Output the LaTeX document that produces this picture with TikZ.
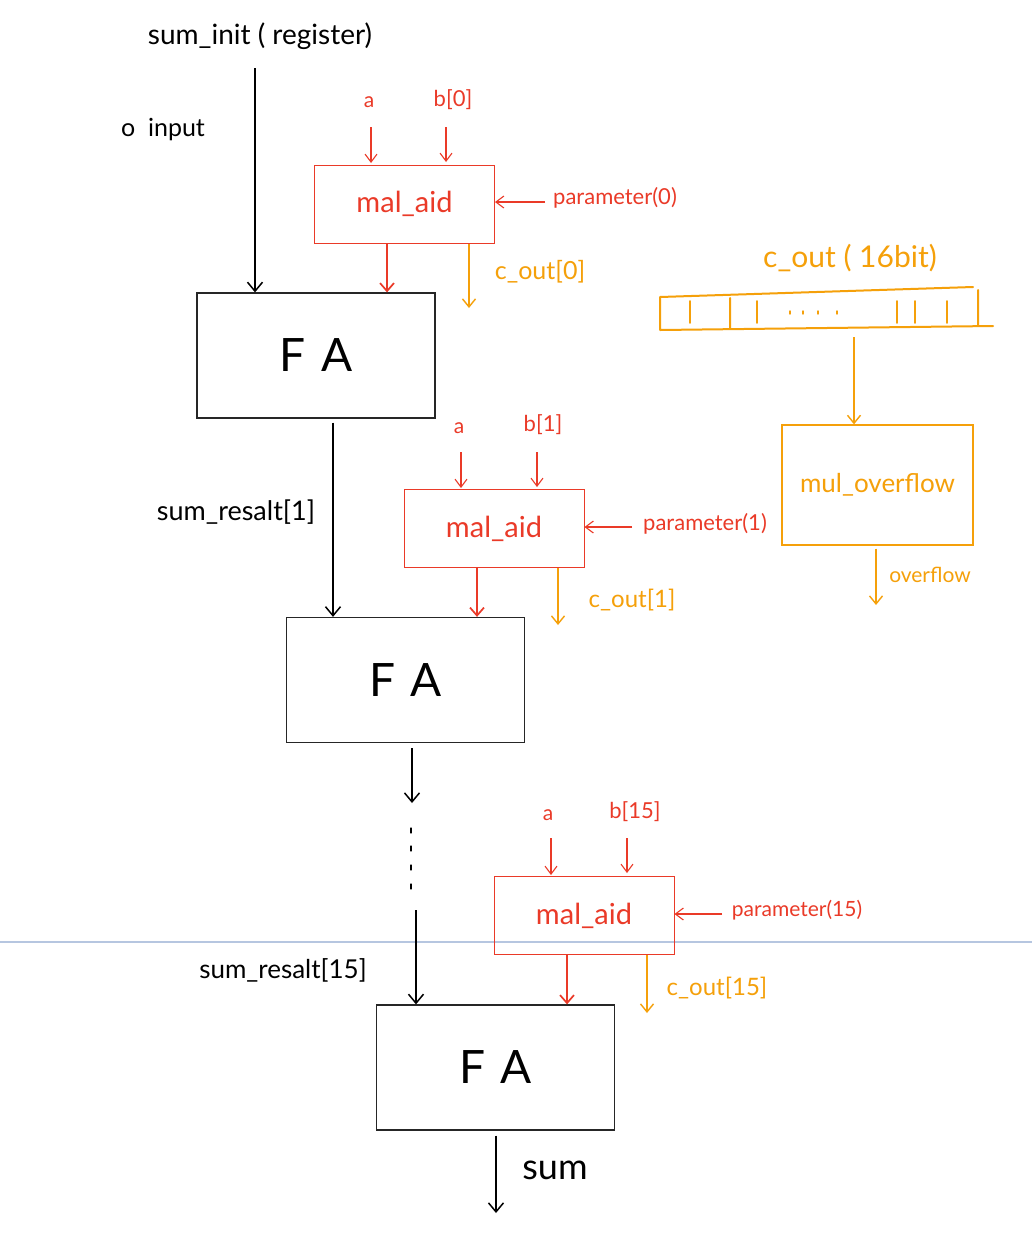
\documentclass[tikz,border=0pt]{standalone}
\usepackage{fontspec}
\setmainfont{Lato}
\usetikzlibrary{arrows.meta}
\definecolor{penred}{RGB}{234,58,40}
\definecolor{penorange}{RGB}{245,160,10}
\definecolor{ruleblue}{RGB}{182,198,224}

\tikzset{
  fs/.style={font=\fontsize{#1}{#1}\selectfont},
  fabox/.style={draw=black!85, line width=1.3pt, minimum width=238pt, minimum height=125pt, inner sep=0pt, fs=46},
  aidbox/.style={draw=penred, line width=1pt, minimum width=180pt, minimum height=78pt, inner sep=0pt, text=penred, fs=29},
  ovfbox/.style={draw=penorange, line width=1.3pt, minimum width=191pt, minimum height=120pt, inner sep=0pt, text=penorange, fs=26},
  blkarrow/.style={draw=black, line width=1.5pt, -{Straight Barb[length=9pt,width=15pt,line width=1.5pt]}},
  redarrow/.style={draw=penred, line width=1.1pt, -{Straight Barb[length=8pt,width=12pt,line width=1.1pt]}},
  redarrowB/.style={draw=penred, line width=1.7pt, -{Straight Barb[length=8pt,width=14pt,line width=1.7pt]}},
  orarrow/.style={draw=penorange, line width=1.4pt, -{Straight Barb[length=8pt,width=13pt,line width=1.4pt]}},
  redtxt/.style={text=penred, inner sep=1pt},
  ortxt/.style={text=penorange, inner sep=1pt},
  blktxt/.style={text=black, inner sep=1pt},
}

\begin{document}
\begin{tikzpicture}[x=1pt, y=-1pt]
\useasboundingbox (0,0) rectangle (1032,1240);
\fill[white] (0,0) rectangle (1032,1240);

% page rule
\draw[ruleblue, line width=1.2pt] (0,942) -- (1032,942);

% ---------- stage 0 ----------
\node[blktxt, fs=28] (init) at (260,36) {sum\_init ( register)};
\node[blktxt, fs=25] (zero) at (163,130) {o\ \ input};
\node[aidbox] (aid0) at (404.5,204) {mal\_aid};
\node[fabox] (fa0) at (316,355.5) {F\,\,A};
\node[redtxt, fs=21] (a0) at (369,102) {a};
\node[redtxt, fs=22] (b0) at (453,100) {b[0]};
\node[redtxt, fs=22] (p0) at (615,198) {parameter(0)};
\node[ortxt, fs=25] (c0) at (540,272) {c\_out[0]};

\coordinate (initS) at (255,68);
\draw[blkarrow] (initS) -- (initS |- fa0.north);
\draw[redarrow] (371,127) -- (371,163);
\draw[redarrow] (446,127) -- (446,162);
\coordinate (p0S) at (545,202);
\draw[redarrow] (p0S) -- (p0S -| aid0.east);
\coordinate (aid0R) at (387,0);
\draw[redarrowB] (aid0R |- aid0.south) -- (aid0R |- fa0.north);
\coordinate (c0E) at (469,308);
\draw[orarrow] (c0E |- aid0.south) -- (c0E);

% ---------- stage 1 ----------
\node[aidbox] (aid1) at (494,528.5) {mal\_aid};
\node[fabox] (fa1) at (405.5,680) {F\,\,A};
\node[redtxt, fs=21] (a1) at (459,428) {a};
\node[redtxt, fs=22] (b1) at (543,425) {b[1]};
\node[redtxt, fs=22] (p1) at (705,524) {parameter(1)};
\node[ortxt, fs=24] (c1) at (632,600) {c\_out[1]};
\node[blktxt, fs=27] (s1) at (236,512) {sum\_resalt[1]};

\coordinate (s1x) at (333,0);
\draw[blkarrow] ([yshift=-4pt]s1x |- fa0.south) -- (s1x |- fa1.north);
\draw[redarrow] (461,452) -- (461,488);
\draw[redarrow] (537,452) -- (537,487);
\coordinate (p1S) at (632,527);
\draw[redarrow] (p1S) -- (p1S -| aid1.east);
\coordinate (aid1R) at (477,0);
\draw[redarrowB] (aid1R |- aid1.south) -- (aid1R |- fa1.north);
\coordinate (c1E) at (558,625);
\draw[orarrow] (c1E |- aid1.south) -- (c1E);

% ---------- gap between stages ----------
\coordinate (gapE) at (412,803);
\draw[blkarrow] ([yshift=-5pt]gapE |- fa1.south) -- (gapE);
\foreach \yy in {828,846,865,884}
  \draw[black, line width=1.2pt, line cap=round] (411,\yy) -- (411,\yy+5);

% ---------- stage 15 ----------
\node[aidbox] (aid15) at (584,915.5) {mal\_aid};
\node[fabox] (fa15) at (495.5,1067.5) {F\,\,A};
\node[redtxt, fs=21] (a15) at (548,815) {a};
\node[redtxt, fs=22] (b15) at (635,812) {b[15]};
\node[redtxt, fs=21] (p15) at (797,910) {parameter(15)};
\node[ortxt, fs=24] (c15) at (717,988) {c\_out[15]};
\node[blktxt, fs=26] (s15) at (283,970) {sum\_resalt[15]};

\coordinate (s15S) at (416,910);
\draw[blkarrow] (s15S) -- (s15S |- fa15.north);
\draw[redarrow] (551,838) -- (551,875);
\draw[redarrow] (627,838) -- (627,873);
\coordinate (p15S) at (722,914);
\draw[redarrow] (p15S) -- (p15S -| aid15.east);
\coordinate (aid15R) at (567,0);
\draw[redarrowB] (aid15R |- aid15.south) -- (aid15R |- fa15.north);
\coordinate (c15E) at (647,1013);
\draw[orarrow] (c15E |- aid15.south) -- (c15E);

% final sum
\coordinate (sumE) at (496,1213);
\draw[blkarrow] ([yshift=-5pt]sumE |- fa15.south) -- (sumE);
\node[blktxt, fs=36] (sum) at (555,1170) {sum};

% ---------- carry register and overflow ----------
\node[ortxt, fs=30] (creg) at (850,258) {c\_out ( 16bit)};
\draw[penorange, line width=2pt, line cap=round]
  (660,297) -- (973,287)
  (660,330) -- (993,326)
  (660,297) -- (660,330)
  (978,290) -- (978,326)
  (730,298) -- (730,329);
\foreach \xx in {690,757,897,915,947}
  \draw[penorange, line width=1.6pt, line cap=round] (\xx,301) -- (\xx,323);
\foreach \xx in {790,803,818,837}
  \draw[penorange, line width=1.4pt, line cap=round] (\xx,311) -- (\xx,314);
\coordinate (regB) at (854,337);
\node[ovfbox] (ovf) at (877.5,485) {mul\_overflow};
\draw[orarrow] (regB) -- (regB |- ovf.north);
\coordinate (ovfE) at (876,605);
\draw[orarrow] ([yshift=-3pt]ovfE |- ovf.south) -- (ovfE);
\node[ortxt, fs=21] (ovfl) at (930,575) {overflow};
\end{tikzpicture}
\end{document}
